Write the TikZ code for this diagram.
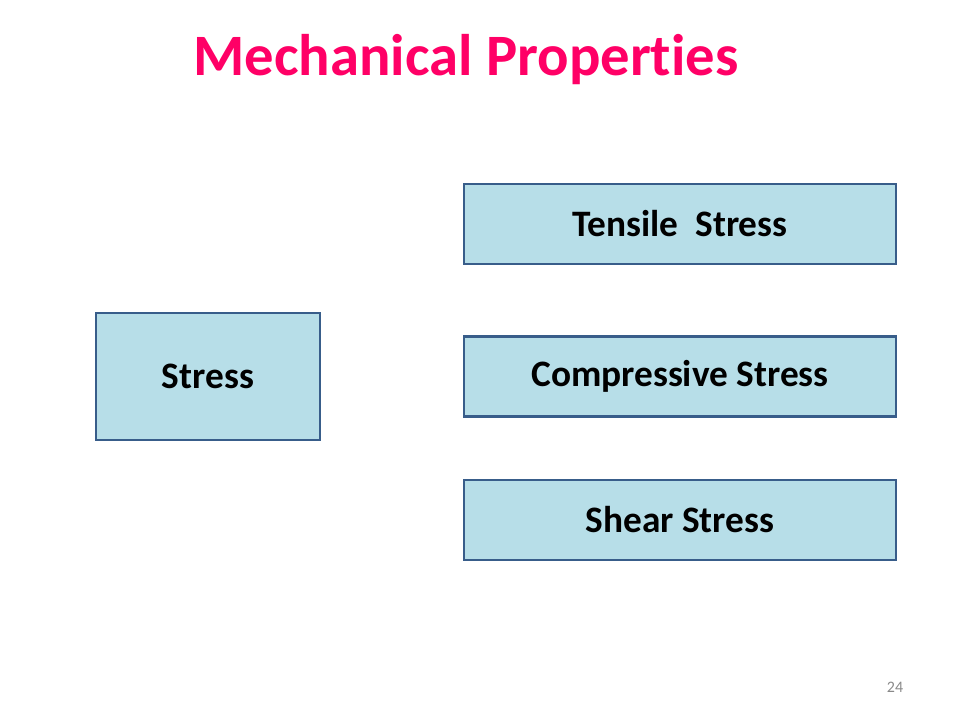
\documentclass[tikz,border=0pt]{standalone}
\usepackage{fontspec}
\setmainfont[Ligatures=NoCommon]{Carlito}
\usepackage{xcolor}
\definecolor{titlepink}{RGB}{255,0,102}
\definecolor{boxfill}{RGB}{183,222,232}
\definecolor{boxline}{RGB}{56,93,138}
\definecolor{pagegrey}{RGB}{137,137,137}
\begin{document}
\begin{tikzpicture}[x=0.75pt, y=-0.75pt,
    stressbox/.style={draw=boxline, fill=boxfill, line width=1.6pt, inner sep=0pt,
        font=\fontsize{28}{33}\selectfont\bfseries},
    kindbox/.style={stressbox, minimum width=324pt, minimum height=60pt}]
                \useasboundingbox (0, 0) rectangle (960, 720);
                % Title
                \node[text=titlepink, font=\fontsize{44}{52}\selectfont\bfseries] (title) at (466, 60) {Mechanical Properties};

                % Main box
                \node[stressbox, minimum width=168pt, minimum height=95.25pt] (stress) at (208, 376.5) {Stress};

                % Kinds of stress
                \node[kindbox] (tensile) at (680, 224) {Tensile\ \ Stress};
                \node[kindbox] (compressive) at (680, 376.5) {Compressive Stress};
                \node[kindbox] (shear) at (680, 520) {Shear Stress};

                % Page number
                \node[text=pagegrey, font=\fontsize{12}{14}\selectfont] (page) at (895, 687) {24};
            \end{tikzpicture}
\end{document}
